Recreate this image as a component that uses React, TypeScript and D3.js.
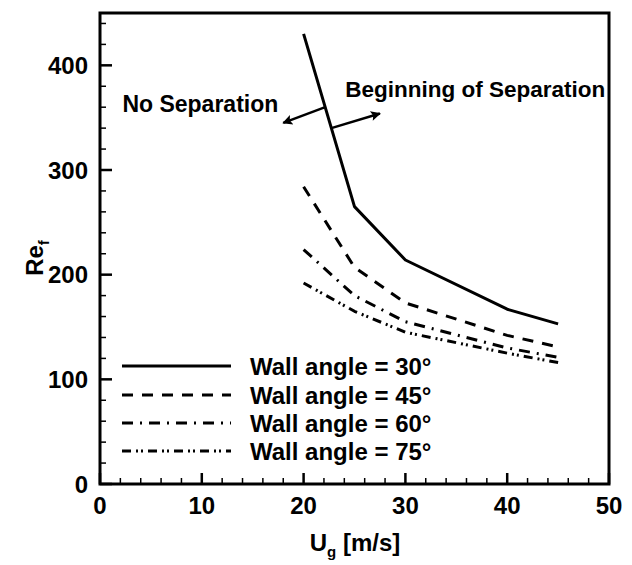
import React from "react";
import * as d3 from "d3";

const ug = [20, 25, 30, 40, 45];
const re30 = [430, 265, 214, 167, 153];
const re45 = [284, 207, 173, 142, 131];
const re60 = [224, 180, 155, 130, 121];
const re75 = [192, 165, 145, 125, 116];
const seriesLabels = ["Wall angle = 30°", "Wall angle = 45°", "Wall angle = 60°", "Wall angle = 75°"];
const xTicks = [0, 10, 20, 30, 40, 50];
const yTicks = [0, 100, 200, 300, 400];

const W = 632, H = 565;
const FONT = "'Liberation Sans', Arial, Helvetica, sans-serif";
const FS = 24;

export default function App() {
  const x = d3.scaleLinear().domain([0, 50]).range([100, 609]);
  const y = d3.scaleLinear().domain([0, 450]).range([484, 13]);
  const series = [re30, re45, re60, re75];
  const dashes = ["none", "11,9", "11,7,2,7", "9,5,2,3,2,5"];
  const line = d3.line<number>().x((_, i) => x(ug[i])).y((d) => y(d));

  const xMinor = d3.range(0, 50.01, 2);
  const yMinor = d3.range(0, 450.01, 20);

  const onSolidX = (v: number) => 20 + ((re30[0] - v) / (re30[0] - re30[1])) * 5;
  const arrows = [
    { from: [onSolidX(360), 360], to: [18, 345] },
    { from: [onSolidX(340), 340], to: [27.5, 354] },
  ];

  const legendRows = [366, 395, 423, 451];

  return (
    <svg width={W} height={H} style={{ position: "absolute", left: 0, top: 0 }} fontFamily={FONT} fontWeight="bold">
      <defs>
        <marker id="ah" viewBox="0 0 10 10" refX="9" refY="5" markerWidth="6" markerHeight="4" orient="auto" markerUnits="strokeWidth">
          <path d="M0,0 L10,5 L0,10 L2,5 z" fill="#000" />
        </marker>
      </defs>
      <rect width={W} height={H} fill="#fff" />
      <rect x={100} y={13} width={509} height={471} fill="none" stroke="#000" strokeWidth={3} />
      {xMinor.map((v) => {
        const major = Math.abs(v % 10) < 1e-6;
        return <line key={"xm" + v} x1={x(v)} x2={x(v)} y1={484} y2={484 - (major ? 11 : 6)} stroke="#000" strokeWidth={major ? 2.5 : 1.5} />;
      })}
      {yMinor.map((v) => {
        const major = Math.abs(v % 100) < 1e-6;
        return <line key={"ym" + v} x1={100} x2={100 + (major ? 12 : 6)} y1={y(v)} y2={y(v)} stroke="#000" strokeWidth={major ? 2.5 : 1.5} />;
      })}
      {xTicks.map((v) => (
        <text key={"xt" + v} x={x(v)} y={514} fontSize={FS} textAnchor="middle">{v}</text>
      ))}
      {yTicks.map((v) => (
        <text key={"yt" + v} x={88} y={y(v) + 8.5} fontSize={FS} textAnchor="end">{v}</text>
      ))}
      <text x={355} y={551} fontSize={FS} textAnchor="middle">
        U<tspan fontSize={15} dy={6}>g</tspan><tspan dy={-6}> [m/s]</tspan>
      </text>
      <text transform="translate(43,258) rotate(-90)" fontSize={FS} textAnchor="middle">
        Re<tspan fontSize={15} dy={6}>f</tspan>
      </text>
      {series.map((s, i) => (
        <path key={"s" + i} d={line(s) || ""} fill="none" stroke="#000" strokeWidth={3} strokeDasharray={dashes[i]} strokeLinejoin="round" />
      ))}
      {arrows.map((a, i) => (
        <line key={"a" + i} x1={x(a.from[0])} y1={y(a.from[1])} x2={x(a.to[0])} y2={y(a.to[1])} stroke="#000" strokeWidth={2.5} markerEnd="url(#ah)" />
      ))}
      <text x={x(2.2)} y={y(355)} fontSize={23}>No Separation</text>
      <text x={x(24.1)} y={y(370)} fontSize={22.5}>Beginning of Separation</text>
      {seriesLabels.map((lab, i) => (
        <g key={"l" + i}>
          <line x1={122} x2={231} y1={legendRows[i]} y2={legendRows[i]} stroke="#000" strokeWidth={3} strokeDasharray={dashes[i]} />
          <text x={250} y={legendRows[i] + 8.5} fontSize={FS}>{lab}</text>
        </g>
      ))}
    </svg>
  );
}
